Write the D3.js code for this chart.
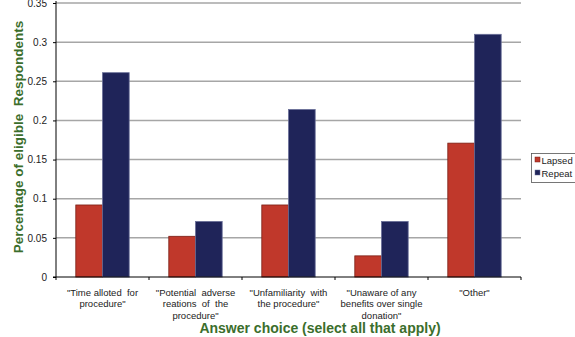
<!DOCTYPE html>
<html><head><meta charset="utf-8">
<script src="https://cdn.jsdelivr.net/npm/d3@7"></script>
<style>body{margin:0;background:#fff;}svg{display:block;font-family:"Liberation Sans",Arial,sans-serif;}</style>
</head><body>
<svg id="c" width="575" height="337"></svg>
<script>
const categories = [
  ["\"Time alloted  for", "procedure\""],
  ["\"Potential  adverse", "reations  of  the", "procedure\""],
  ["\"Unfamiliarity  with", "the procedure\""],
  ["\"Unaware of any", "benefits over single", "donation\""],
  ["\"Other\""]
];
const seriesNames = ["Lapsed", "Repeat"];
const lapsed = [0.092, 0.052, 0.092, 0.027, 0.171];
const repeat = [0.261, 0.071, 0.214, 0.071, 0.310];
const yTicks = [0, 0.05, 0.1, 0.15, 0.2, 0.25, 0.3, 0.35];
const colors = ["#c0382b", "#1f2459"];
const strokes = ["#7a1e14", "#6a6f98"];

const svg = d3.select("#c");
const m = {l: 56, r: 521, t: 3, b: 277};
const x = d3.scaleBand().domain(d3.range(categories.length)).range([m.l, m.r]).paddingInner(0).paddingOuter(0);
const x1 = d3.scaleBand().domain([0,1]).range([0, x.bandwidth()*0.574]);
const y = d3.scaleLinear().domain([0, 0.35]).range([m.b, m.t]);

// gridlines
svg.append("g").selectAll("line").data(yTicks.filter(d=>d>0)).join("line")
  .attr("x1", m.l).attr("x2", m.r).attr("y1", d=>y(d)).attr("y2", d=>y(d))
  .attr("stroke", "#a6a6a6").attr("stroke-width", 1.5);

// bars
const data = [lapsed, repeat];
const g = svg.append("g");
data.forEach((vals, si) => {
  g.selectAll(".s"+si).data(vals).join("rect")
    .attr("x", (d,i)=> x(i) + x.bandwidth()*0.213 + x1(si))
    .attr("width", x1.bandwidth())
    .attr("y", d=>y(d)).attr("height", d=>y(0)-y(d))
    .attr("fill", colors[si]).attr("stroke", strokes[si]).attr("stroke-width", 0.8);
});

// y axis
const ya = svg.append("g").attr("transform", `translate(${m.l},0)`)
  .call(d3.axisLeft(y).tickValues(yTicks).tickSize(3).tickPadding(6).tickFormat(d=>d===0?"0":String(+d.toFixed(2))));
ya.select(".domain").attr("stroke", "#000").attr("d", `M0,${m.b}V${m.t-2}`);
ya.selectAll(".tick line").attr("stroke", "#000");
ya.selectAll("text").attr("font-size", 10).attr("fill", "#222").attr("font-family", "Liberation Sans, Arial, sans-serif");

// x axis
const xa = svg.append("g").attr("transform", `translate(0,${m.b})`);
xa.append("line").attr("x1", m.l-3).attr("x2", m.r).attr("stroke", "#000");
xa.selectAll(".tk").data(d3.range(categories.length+1)).join("line")
  .attr("x1", i=> m.l + i*x.bandwidth()).attr("x2", i=> m.l + i*x.bandwidth())
  .attr("y1", 0).attr("y2", 3).attr("stroke", "#000");
categories.forEach((lines, i) => {
  const t = xa.append("text").attr("text-anchor", "middle").attr("font-size", 9.5).attr("fill", "#222")
    .attr("xml:space", "preserve").style("white-space", "pre")
    .attr("x", x(i)+x.bandwidth()/2).attr("y", 19);
  lines.forEach((ln, j) => t.append("tspan").attr("x", x(i)+x.bandwidth()/2).attr("dy", j===0?0:11.3).text(ln));
});

// axis titles
svg.append("text").attr("x", 320).attr("y", 333).attr("text-anchor", "middle")
  .attr("font-size", 14).attr("font-weight", "bold").attr("fill", "#3b6e2c")
  .text("Answer choice (select all that apply)");
svg.append("text").attr("transform", "translate(23,137) rotate(-90)").attr("text-anchor", "middle")
  .attr("font-size", 13.5).attr("font-weight", "bold").attr("fill", "#3b6e2c")
  .style("white-space", "pre")
  .text("Percentage of eligible  Respondents");

// legend
const lg = svg.append("g");
lg.append("rect").attr("x", 531.5).attr("y", 153.5).attr("width", 60).attr("height", 29)
  .attr("fill", "#fff").attr("stroke", "#555").attr("stroke-width", 0.8);
seriesNames.forEach((n, i) => {
  lg.append("rect").attr("x", 535).attr("y", 157 + i*13).attr("width", 5).attr("height", 5)
    .attr("fill", colors[i]).attr("stroke", strokes[i]).attr("stroke-width", 0.5);
  lg.append("text").attr("x", 541.5).attr("y", 163.5 + i*13).attr("font-size", 9.5).attr("fill", "#222").text(n);
});
</script>
</body></html>
